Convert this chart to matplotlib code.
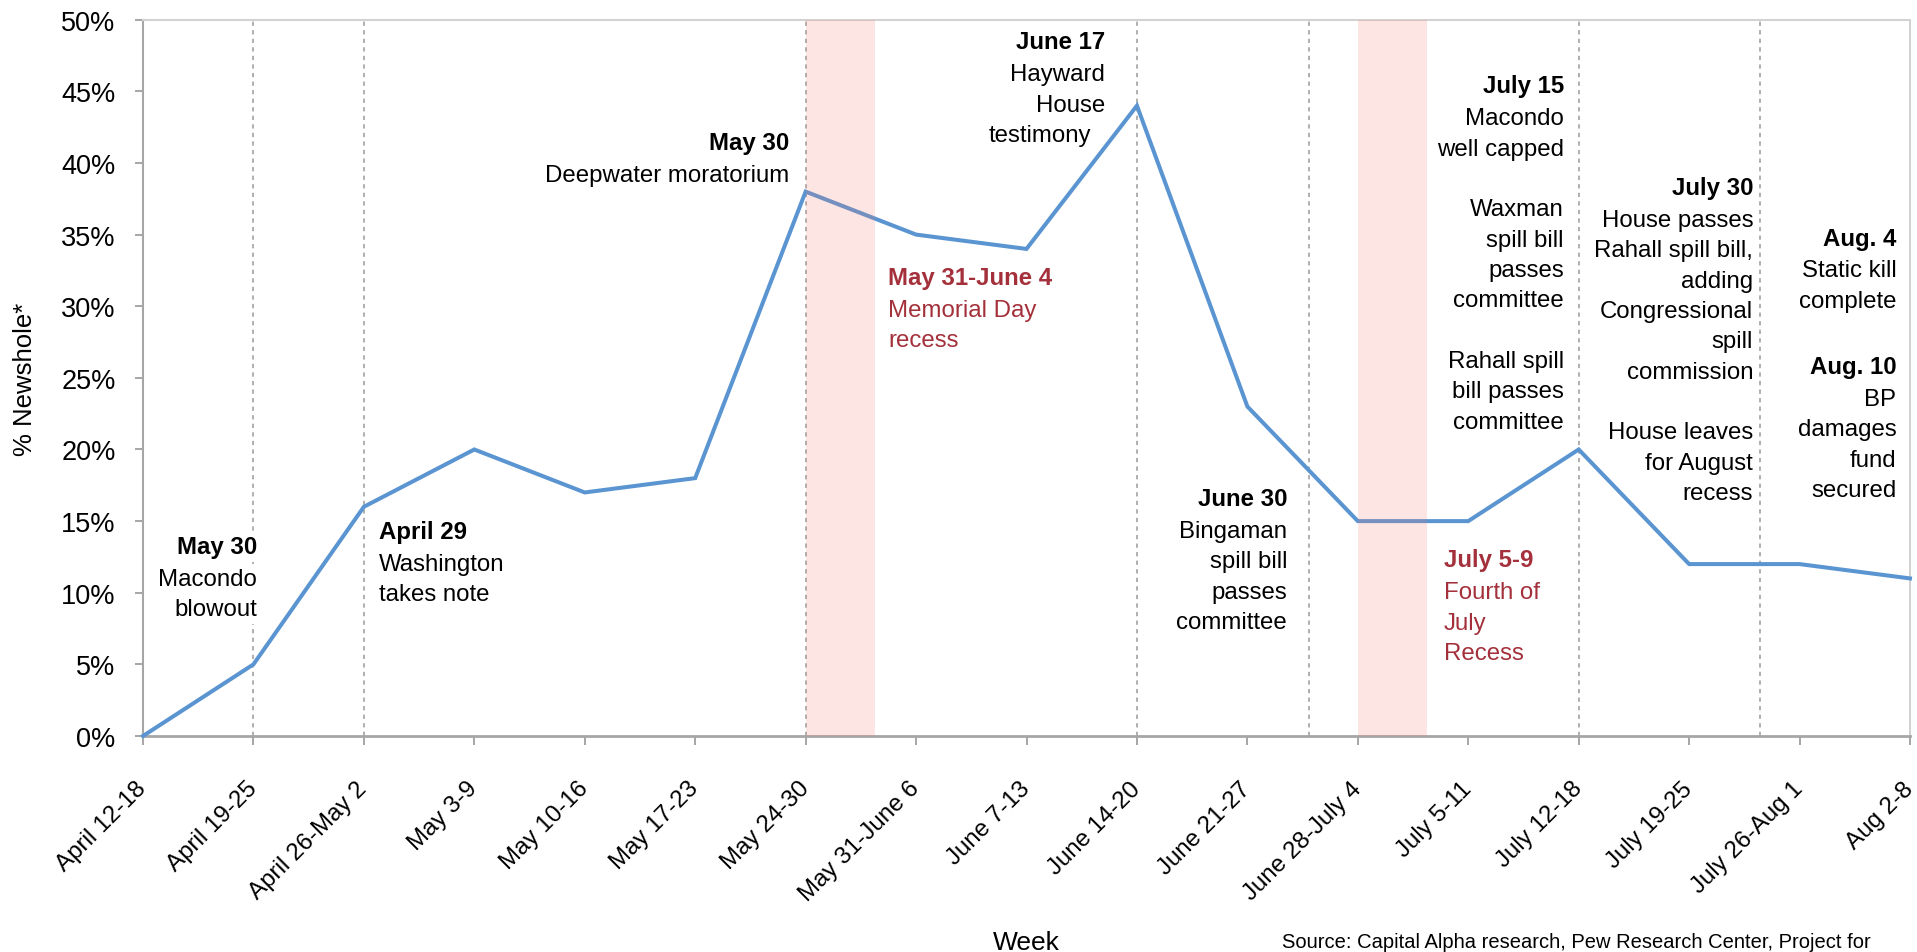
import matplotlib
matplotlib.use('Agg')
import matplotlib.pyplot as plt
from matplotlib.ticker import FuncFormatter
from matplotlib.transforms import ScaledTranslation

plt.rcParams['font.family'] = ['Liberation Sans', 'DejaVu Sans']

# ---------------- data ----------------
weeks = ["April 12-18", "April 19-25", "April 26-May 2", "May 3-9", "May 10-16",
         "May 17-23", "May 24-30", "May 31-June 6", "June 7-13", "June 14-20",
         "June 21-27", "June 28-July 4", "July 5-11", "July 12-18", "July 19-25",
         "July 26-Aug 1", "Aug 2-8"]
newshole = [0, 5, 16, 20, 17, 18, 38, 35, 34, 44, 23, 15, 15, 20, 12, 12, 11]
y_ticks = [0, 5, 10, 15, 20, 25, 30, 35, 40, 45, 50]
event_lines = [1, 2, 6, 9, 10.56, 13, 14.64]
recess_spans = [(6, 6.63), (11, 11.63)]

BLACK = '#000000'
RED = '#a3303a'
notes = [
    dict(x=1.03, y=12.77, ha='right', color=BLACK, title='May 30',
         lines=['Macondo', 'blowout'], bg=True),
    dict(x=2.137, y=13.82, ha='left', color=BLACK, title='April 29',
         lines=['Washington', 'takes note']),
    dict(x=5.85, y=40.97, ha='right', color=BLACK, title='May 30',
         lines=['Deepwater moratorium']),
    dict(x=8.713, y=48.0, ha='right', color=BLACK, title='June 17',
         lines=['Hayward', 'House', 'testimony'], line_x={2: 8.588}),
    dict(x=6.75, y=31.55, ha='left', color=RED, title='May 31-June 4',
         lines=['Memorial Day', 'recess']),
    dict(x=10.36, y=16.12, ha='right', color=BLACK, title='June 30',
         lines=['Bingaman', 'spill bill', 'passes', 'committee']),
    dict(x=11.78, y=11.84, ha='left', color=RED, title='July 5-9',
         lines=['Fourth of', 'July', 'Recess']),
    dict(x=12.866, y=44.93, ha='right', color=BLACK, title='July 15',
         lines=['Macondo', 'well capped', '', 'Waxman', 'spill bill', 'passes',
                'committee', '', 'Rahall spill', 'bill passes', 'committee']),
    dict(x=14.58, y=37.83, ha='right', color=BLACK, title='July 30',
         lines=['House passes', 'Rahall spill bill,', 'adding', 'Congressional',
                'spill', 'commission', '', 'House leaves', 'for August', 'recess']),
    dict(x=15.876, y=34.30, ha='right', color=BLACK, title='Aug. 4',
         lines=['Static kill', 'complete']),
    dict(x=15.876, y=25.32, ha='right', color=BLACK, title='Aug. 10',
         lines=['BP', 'damages', 'fund', 'secured']),
]

# ---------------- figure ----------------
W, H = 1917, 953
fig = plt.figure(figsize=(W / 100, H / 100), dpi=100)
ax = fig.add_axes([143 / W, 1 - 737 / H, (1910 - 143) / W, (737 - 20.7) / H])

x = list(range(len(weeks)))
ax.plot(x, newshole, color='#5a95d1', lw=2.9, solid_joinstyle='miter',
        zorder=3, clip_on=False)

for xv in event_lines:
    ax.axvline(xv, color='#9a9a9a', lw=1.1, ls=(0, (2.8, 2.8)), zorder=1)
for a, b in recess_spans:
    ax.axvspan(a, b, facecolor='#f47469', alpha=0.18, lw=0, zorder=4)

ax.set_xlim(0, len(weeks) - 1)
ax.set_ylim(0, 50)
ax.set_yticks(y_ticks)
ax.yaxis.set_major_formatter(FuncFormatter(lambda v, p: f'{int(v)}%'))
ax.set_xticks(x)
ax.set_xticklabels(weeks, rotation=45, ha='right', va='center',
                   rotation_mode='anchor', fontsize=17.4)
for lab in ax.get_xticklabels():
    lab.set_transform(lab.get_transform() + ScaledTranslation(0.03, 0, fig.dpi_scale_trans))

ax.tick_params(axis='y', direction='out', length=5.8, width=1.4, color='#a6a6a6',
               labelsize=19.5, pad=14, labelcolor='black')
ax.tick_params(axis='x', direction='out', length=6.2, width=1.4, color='#a6a6a6',
               pad=29, labelcolor='black')

for side in ['left', 'bottom']:
    ax.spines[side].set_color('#a6a6a6')
ax.spines['left'].set_linewidth(1.5)
ax.spines['bottom'].set_linewidth(2.0)
for side in ['top', 'right']:
    ax.spines[side].set_color('#d2d2d2')
    ax.spines[side].set_linewidth(1.5)

FS = 17.3
GAP = 2.22
STEP = 2.12
for n in notes:
    kw = {}
    if n.get('bg'):
        kw['bbox'] = dict(facecolor='white', edgecolor='none', pad=3)
    ax.text(n['x'], n['y'], n['title'], ha=n['ha'], va='baseline', fontsize=FS,
            fontweight='bold', color=n['color'], zorder=5, **kw)
    lx = n.get('line_x', {})
    for i, ln in enumerate(n['lines']):
        if ln:
            ax.text(lx.get(i, n['x']), n['y'] - GAP - i * STEP, ln, ha=n['ha'],
                    va='baseline', fontsize=FS, color=n['color'], zorder=5, **kw)

fig.text(25 / W, 1 - 379 / H, '% Newshole*', rotation=90, ha='center', va='center',
         fontsize=18.5, color='black')
fig.text(1026 / W, 1 - 950 / H, 'Week', ha='center', va='baseline',
         fontsize=19, color='black')
fig.text(1282 / W, 1 - 948 / H,
         'Source: Capital Alpha research, Pew Research Center, Project for',
         ha='left', va='baseline', fontsize=14.5, color='black')

fig.savefig('out.png', dpi=100)
